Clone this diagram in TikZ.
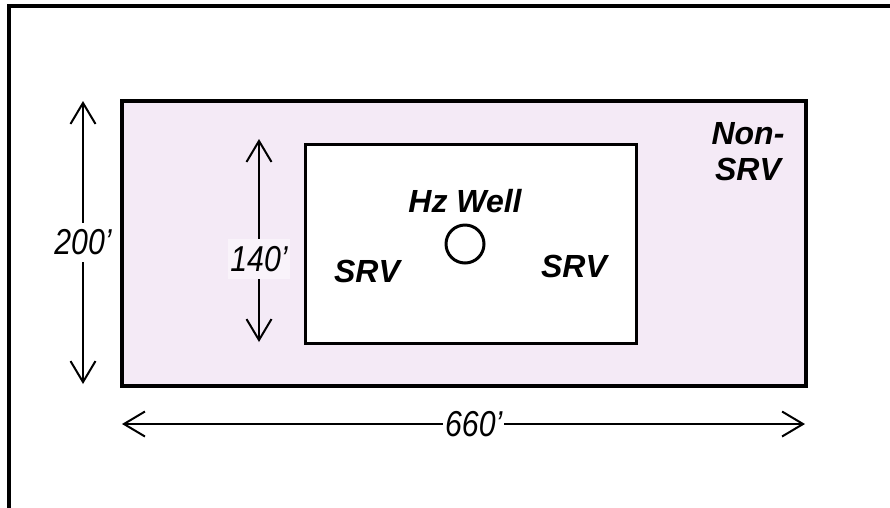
\documentclass[tikz,border=0pt]{standalone}
\usepackage{fontspec}
\setmainfont{Liberation Sans}
\newfontfamily\dimfont[FakeStretch=0.84]{Liberation Sans}
\usepackage{xcolor}
\usetikzlibrary{positioning}
\usetikzlibrary{arrows.meta}
\definecolor{srvpink}{HTML}{F4EAF6}
\definecolor{tagpink}{HTML}{F9F3FA}
\tikzset{
  % A reservoir region (outer non-SRV, inner SRV)
  zone/.style={draw=black, line width=3.5pt, fill=#1, inner sep=0pt},
  % Region names
  regname/.style={font=\fontsize{32}{36}\selectfont\bfseries\itshape,
    align=center, inner sep=0pt},
  % Dimension lines and their labels
  dimline/.style={{Straight Barb[length=21pt,width=25pt]}-{Straight Barb[length=21pt,width=25pt]},
    line width=2pt},
  dimlbl/.style={font=\dimfont\fontsize{36}{40}\selectfont\itshape, fill=#1,
    inner xsep=2pt, inner ysep=7pt},
}

\begin{document}
\begin{tikzpicture}[x=1pt, y=-1pt]

  \useasboundingbox (0,0) rectangle (890,507);
  \clip (0,0) rectangle (890,507);
  \draw[line width=4pt] (9,6) rectangle (950,560);

  \node[zone=srvpink, minimum width=684pt, minimum height=285pt] (nonsrv) at (464,243.5) {};
  \node[zone=white, line width=3pt, minimum width=331pt, minimum height=199pt] (srv) at (470.5,243.5) {};
  \node[draw, circle, line width=3pt, minimum size=38pt, inner sep=0pt] (well) at (465,244) {};

  \node[regname, above=10pt of well] (wellname) {Hz Well};
  \node[regname] (srvleft) at (367,271) {SRV};
  \node[regname] (srvright) at (574,266) {SRV};
  \node[regname] (nonsrvname) at (748,152) {Non-\\SRV};

  \coordinate (h200a) at (83,101);
  \coordinate (h200b) at (83,384);
  \draw[dimline] (h200a) -- (h200b) node[dimlbl=white, pos=0.5] (h200) {200’};

  \coordinate (h140a) at (259,139);
  \coordinate (h140b) at (259,342);
  \draw[dimline] (h140a) -- (h140b) node[dimlbl=tagpink, pos=0.59] (h140) {140’};

  \coordinate (w660a) at (122,424);
  \coordinate (w660b) at (805,424);
  \draw[dimline] (w660a) -- (w660b) node[dimlbl=white, pos=0.515] (w660) {660’};

\end{tikzpicture}
\end{document}
